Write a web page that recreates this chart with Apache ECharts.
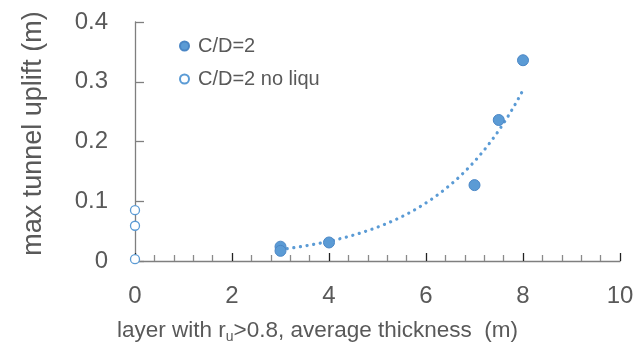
<!DOCTYPE html>
<html>
<head>
<meta charset="utf-8">
<script src="https://cdn.jsdelivr.net/npm/echarts@6/dist/echarts.min.js"></script>
<style>
  html, body { margin: 0; padding: 0; background: #fff; }
  #chart { width: 638px; height: 354px; }
</style>
</head>
<body>
<div id="chart"></div>
<script>
// C/D=2 cases, [thickness, uplift]
const liquPoints = [[3, 0.024], [3, 0.017], [4, 0.031], [7, 0.127], [7.5, 0.236], [8, 0.336]];
// C/D=2 without liquefied layer
const noLiquPoints = [[0, 0.085], [0, 0.059], [0, 0.003]];
const xTicks = [0, 2, 4, 6, 8, 10];
const yTicks = [0, 0.1, 0.2, 0.3, 0.4];

const blue = '#5B9BD5';
const textGray = '#595959';
const fontFamily = '"Liberation Sans", Arial, sans-serif';

// exponential trendline (least squares on ln y), like the spreadsheet one
function expTrend(points) {
  const n = points.length;
  let sx = 0, sy = 0, sxx = 0, sxy = 0;
  points.forEach(([x, y]) => {
    const ly = Math.log(y);
    sx += x; sy += ly; sxx += x * x; sxy += x * ly;
  });
  const b = (n * sxy - sx * sy) / (n * sxx - sx * sx);
  const a = Math.exp((sy - b * sx) / n);
  const xs = points.map(p => p[0]);
  const x0 = Math.min(...xs), x1 = Math.max(...xs);
  const out = [];
  for (let i = 0; i <= 100; i++) {
    const x = x0 + (x1 - x0) * i / 100;
    out.push([x, a * Math.exp(b * x)]);
  }
  return out;
}

const legendBase = {
  orient: 'vertical',
  left: 174,
  itemWidth: 9,
  itemHeight: 9,
  itemGap: 0,
  textStyle: { fontSize: 20, color: textGray, fontFamily: fontFamily, padding: [0, 0, 0, 4] }
};

const chart = echarts.init(document.getElementById('chart'), null, { renderer: 'canvas' });

chart.setOption({
  animation: false,
  textStyle: { fontFamily: fontFamily },
  grid: { left: 135, right: 18, top: 22, bottom: 93, containLabel: false },
  legend: [
    Object.assign({}, legendBase, { data: ['C/D=2'], top: 31 }),
    Object.assign({}, legendBase, { data: ['C/D=2 no liqu'], top: 64 })
  ],
  xAxis: {
    type: 'value',
    min: xTicks[0],
    max: xTicks[xTicks.length - 1],
    interval: 2,
    name: 'layer with r{sub|u}>0.8, average thickness  (m)',
    nameLocation: 'middle',
    nameGap: 57,
    nameTextStyle: {
      fontSize: 22.5, color: textGray,
      padding: [0, 120, 0, 0],
      rich: { sub: { fontSize: 14, color: textGray, padding: [12, 0, 0, 0] } }
    },
    axisLine: { lineStyle: { color: '#7f7f7f', width: 1.3 } },
    axisTick: { inside: true, length: 8, lineStyle: { color: '#222', width: 1.3 } },
    minorTick: { show: true, splitNumber: 5, length: 6, lineStyle: { color: '#8a8a8a', width: 1.3 } },
    splitLine: { show: false },
    axisLabel: { fontSize: 24, color: textGray, margin: 23 }
  },
  yAxis: {
    type: 'value',
    min: yTicks[0],
    max: yTicks[yTicks.length - 1],
    interval: 0.1,
    name: 'max tunnel uplift (m)',
    nameLocation: 'middle',
    nameGap: 88,
    nameTextStyle: { fontSize: 27, color: textGray, padding: [0, 0, 0, 16] },
    axisLine: { show: true, lineStyle: { color: '#7f7f7f', width: 1.3 } },
    axisTick: { show: true, inside: true, length: 9, lineStyle: { color: '#7f7f7f', width: 1.3 } },
    splitLine: { show: false },
    axisLabel: { fontSize: 24, color: textGray, margin: 27 }
  },
  series: [
    {
      name: 'trend',
      type: 'line',
      data: expTrend(liquPoints),
      showSymbol: false,
      silent: true,
      z: 1,
      lineStyle: { color: blue, width: 3.2, type: [0.1, 6.6], cap: 'round' }
    },
    {
      name: 'C/D=2',
      type: 'scatter',
      data: liquPoints,
      symbolSize: 11,
      z: 3,
      itemStyle: { color: blue, borderColor: '#4A86C5', borderWidth: 1, opacity: 1 }
    },
    {
      name: 'C/D=2 no liqu',
      type: 'scatter',
      data: noLiquPoints,
      symbolSize: 9,
      z: 3,
      itemStyle: { color: '#fff', borderColor: blue, borderWidth: 1.3, opacity: 1 }
    }
  ]
});
</script>
</body>
</html>
